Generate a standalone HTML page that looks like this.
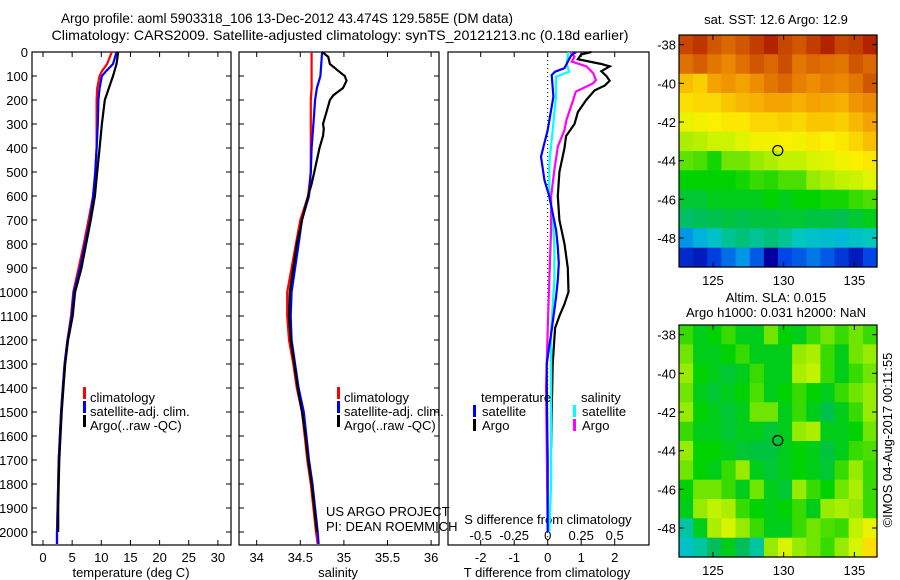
<!DOCTYPE html>
<html><head><meta charset="utf-8"><style>
html,body{margin:0;padding:0;background:#fff;}
svg{display:block;font-family:"Liberation Sans",sans-serif;}
text{font-size:13px;fill:#000;}
</style></head><body>
<svg id="fig" width="900" height="580" viewBox="0 0 900 580" xmlns="http://www.w3.org/2000/svg">
<text x="287" y="23" text-anchor="middle" textLength="452" lengthAdjust="spacingAndGlyphs" style="font-size:14px">Argo profile: aoml 5903318_106 13-Dec-2012 43.474S 129.585E (DM data)</text>
<text x="340" y="40" text-anchor="middle" textLength="577" lengthAdjust="spacingAndGlyphs" style="font-size:14px">Climatology: CARS2009. Satellite-adjusted climatology: synTS_20121213.nc (0.18d earlier)</text>
<g id="g"></g>
</svg>
<script>
// ---------- data ----------
const depthsT=[0,50,80,100,150,200,300,400,500,600,700,800,900,1000,1100,1200,1300,1400,1500,1600,1700,1800,1900,2000,2050];
const tempClim=[11.8,11.0,10.1,9.7,9.3,9.2,9.2,9.2,9.0,8.6,7.8,7.0,6.1,5.2,4.8,4.2,3.7,3.4,3.1,2.9,2.7,2.6,2.5,2.4,2.4];
const tempSat=[12.6,12.0,10.8,10.1,9.7,9.5,9.4,9.2,8.95,8.6,8.06,7.2,6.35,5.3,4.9,4.2,3.7,3.4,3.1,2.9,2.7,2.6,2.5,2.4,2.4];
const depthsArgoT=[0,50,100,150,200,300,400,500,600,700,800,900,1000,1100,1200,1300,1400,1500,1600,1700,1800,1900,2000];
const tempArgo=[12.9,12.6,12.0,11.3,10.6,10.1,9.7,9.3,8.9,8.2,7.4,6.6,5.5,5.1,4.3,3.8,3.5,3.2,3.0,2.8,2.7,2.6,2.6];
const depthsS=[0,100,150,200,300,400,500,600,700,800,900,1000,1100,1200,1300,1400,1500,1600,1700,1800,1900,2000,2050];
const salClim=[34.63,34.63,34.63,34.62,34.62,34.62,34.62,34.59,34.50,34.45,34.40,34.35,34.35,34.37,34.42,34.46,34.52,34.55,34.58,34.62,34.65,34.68,34.70];
const salSat=[34.75,34.73,34.69,34.67,34.65,34.63,34.62,34.60,34.52,34.48,34.44,34.40,34.39,34.40,34.44,34.48,34.54,34.57,34.60,34.64,34.67,34.70,34.71];
const depthsArgoS=[0,20,50,80,100,120,150,180,200,250,300,320,350,400,450,500,550,600,700,800,900,1000,1100,1200,1300,1400,1500,1600,1700,1800,1900,2000];
const salArgo=[34.75,34.82,34.84,34.94,35.01,35.03,34.99,34.88,34.84,34.80,34.76,34.77,34.76,34.72,34.69,34.66,34.63,34.59,34.52,34.46,34.42,34.38,34.37,34.39,34.43,34.47,34.52,34.56,34.59,34.63,34.66,34.69];
const depthsD=[0,14,40,67,82,96,186,325,436,533,603,672,742,812,880,950,1020,1158,1300,1500,1700,2000];
const dTSat=[0.85,0.7,0.6,0.5,0.22,0.12,0.17,0.0,-0.2,-0.1,0.05,0.15,0.25,0.3,0.33,0.3,0.25,0.12,-0.03,-0.02,0,0];
const depthsDA=[0,10,30,50,60,80,100,120,140,160,200,250,300,350,400,500,600,700,800,900,1000,1050,1100,1150,1300,1500,1650];
const dTArgo=[1.3,1.0,0.9,1.6,1.85,1.6,1.75,1.85,1.7,1.4,1.15,0.9,0.8,0.55,0.5,0.35,0.3,0.35,0.5,0.6,0.62,0.5,0.35,0.22,0.15,0.12,0.1];
const depthsDS=[0,49,82,103,186,325,464,603,672,812,950,1158,1400,1800,2000];
const dSSat=[0.155,0.142,0.16,0.062,0.062,0.037,0.012,0.012,0.037,0.05,0.05,0.025,0.025,0.025,0.012];
const depthsDSA=[0,20,40,60,89,117,130,165,200,283,325,394,490,603,742,950,1158,1400,2000];
const dSArgo=[0.17,0.2,0.18,0.29,0.34,0.36,0.34,0.21,0.19,0.14,0.125,0.075,0.05,0.025,0.025,0.012,0,-0.012,0];
const depthTicks=[0,100,200,300,400,500,600,700,800,900,1000,1100,1200,1300,1400,1500,1600,1700,1800,1900,2000];
const tempTicks=[0,5,10,15,20,25,30];
const salTicks=[34,34.5,35,35.5,36];
const tdTicks=[-2,-1,0,1,2];
const sdTicks=[-0.5,-0.25,0,0.25,0.5];
const latTicks=[-38,-40,-42,-44,-46,-48];
const lonTicks=[125,130,135];
const sstGrid=[
[.92,.94,.9,.88,.9,.93,.96,.92,.9,.93,.96,.92,.93,.96],
[.87,.89,.86,.84,.87,.9,.88,.91,.86,.88,.87,.86,.9,.88],
[.76,.74,.8,.82,.8,.83,.86,.88,.85,.83,.85,.84,.86,.9],
[.72,.73,.73,.75,.77,.78,.8,.8,.78,.8,.79,.78,.82,.84],
[.68,.69,.7,.71,.71,.73,.73,.74,.73,.75,.75,.74,.77,.8],
[.62,.63,.65,.65,.67,.69,.69,.7,.69,.71,.7,.71,.73,.76],
[.57,.56,.53,.58,.58,.6,.62,.64,.64,.66,.67,.69,.7,.71],
[.52,.52,.52,.52,.53,.55,.54,.56,.56,.6,.62,.64,.65,.67],
[.48,.48,.5,.5,.5,.5,.52,.5,.52,.52,.53,.53,.55,.56],
[.44,.45,.46,.47,.46,.47,.47,.48,.48,.47,.47,.46,.48,.5],
[.28,.32,.36,.41,.43,.41,.43,.41,.38,.36,.35,.34,.36,.38],
[.16,.14,.19,.24,.28,.22,.1,.2,.22,.25,.22,.18,.14,.2]];
const slaGrid=[
[.55,.5,.52,.55,.5,.5,.58,.52,.5,.55,.58,.55,.58,.55],
[.58,.5,.5,.52,.55,.5,.5,.5,.6,.62,.55,.5,.58,.6],
[.6,.52,.5,.48,.5,.55,.5,.5,.62,.64,.55,.5,.55,.58],
[.58,.5,.48,.5,.52,.56,.5,.52,.55,.52,.5,.55,.58,.6],
[.6,.52,.5,.48,.5,.58,.58,.5,.55,.5,.46,.5,.55,.6],
[.55,.5,.5,.48,.5,.5,.48,.5,.6,.62,.5,.5,.52,.58],
[.6,.52,.52,.5,.48,.47,.47,.5,.52,.5,.47,.5,.55,.56],
[.58,.52,.5,.55,.6,.5,.48,.5,.52,.5,.48,.55,.6,.55],
[.52,.58,.58,.55,.5,.58,.5,.48,.6,.55,.52,.58,.62,.55],
[.5,.6,.64,.62,.55,.52,.5,.52,.55,.5,.6,.62,.6,.55],
[.4,.5,.62,.66,.6,.55,.5,.5,.55,.58,.56,.55,.64,.68],
[.36,.4,.45,.5,.45,.4,.6,.66,.6,.58,.55,.6,.66,.72]];
const argoLon=129.585, argoLat=-43.474;
// ---------- helpers ----------
const NS="http://www.w3.org/2000/svg";
const G=document.getElementById('g');
function mk(tag,attrs,parent){const e=document.createElementNS(NS,tag);for(const k in attrs)e.setAttribute(k,attrs[k]);(parent||G).appendChild(e);return e;}
const yD=d=>52+d*0.24;
const xT=t=>43+5.83*t;
const xS=s=>256.7+87.2*(s-34);
const xTd=t=>547.7+33.5*t;
const xSd=s=>547.7+134*s;
function line(xs,ds,fx,color,name){
  const pts=xs.map((v,i)=>fx(v).toFixed(1)+','+yD(ds[i]).toFixed(1)).join(' ');
  const p=mk('polyline',{points:pts,fill:'none',stroke:color,'stroke-width':2.2});
  
  
}
function txt(x,y,s,anchor,name,extra){
  const t=mk('text',Object.assign({x:x,y:y,'text-anchor':anchor||'start'},extra||{}));t.textContent=s;
  
  
  return t;
}
function frame(x0,x1,y0,y1,name){
  const r=mk('rect',{x:x0,y:y0,width:x1-x0,height:y1-y0,fill:'none',stroke:'#000','stroke-width':1.2});
  
  
}
function legBar(x,y,c){mk('rect',{x:x,y:y-11,width:3,height:12,fill:c});}
// ---------- profile panels ----------
const panels=[[32,231],[239,439],[448,649]];
panels.forEach((p,i)=>{
  frame(p[0],p[1],52,545,'profile-panel-'+(i+1));
  if(i<2) depthTicks.forEach(d=>{mk('line',{x1:p[0],x2:p[0]+5,y1:yD(d),y2:yD(d),stroke:'#000'});mk('line',{x1:p[1]-5,x2:p[1],y1:yD(d),y2:yD(d),stroke:'#000'});});
});
depthTicks.forEach(d=>txt(28,yD(d)+5,String(d),'end','depth-tick-label'));
tempTicks.forEach(t=>{mk('line',{x1:xT(t),x2:xT(t),y1:52,y2:57,stroke:'#000'});mk('line',{x1:xT(t),x2:xT(t),y1:540,y2:545,stroke:'#000'});txt(xT(t),562,String(t),'middle','temp-tick-label');});
salTicks.forEach(s=>{mk('line',{x1:xS(s),x2:xS(s),y1:52,y2:57,stroke:'#000'});mk('line',{x1:xS(s),x2:xS(s),y1:540,y2:545,stroke:'#000'});txt(xS(s),562,String(s),'middle','salinity-tick-label');});
tdTicks.forEach(t=>{mk('line',{x1:xTd(t),x2:xTd(t),y1:52,y2:57,stroke:'#000'});mk('line',{x1:xTd(t),x2:xTd(t),y1:540,y2:545,stroke:'#000'});txt(xTd(t),562,String(t),'middle','tdiff-tick-label');});
sdTicks.forEach(s=>txt(xSd(s),540,String(s),'middle','sdiff-tick-label'));
txt(131,577,'temperature (deg C)','middle','x-axis-title-temperature');
txt(338,577,'salinity','middle','x-axis-title-salinity');
txt(547,577,'T difference from climatology','middle','x-axis-title-tdiff');
txt(548,524,'S difference from climatology','middle','x-axis-title-sdiff');
const z=mk('line',{x1:xTd(0),x2:xTd(0),y1:52,y2:545,stroke:'#000','stroke-dasharray':'1,3'});

line(tempClim,depthsT,xT,'#ff0000','temp-climatology-line');
line(tempSat,depthsT,xT,'#0000ff','temp-satellite-line');
line(tempArgo,depthsArgoT,xT,'#000000','temp-argo-line');
line(salClim,depthsS,xS,'#ff0000','sal-climatology-line');
line(salSat,depthsS,xS,'#0000ff','sal-satellite-line');
line(salArgo,depthsArgoS,xS,'#000000','sal-argo-line');
line(dTArgo,depthsDA,xTd,'#000000','tdiff-argo-line');
line(dSArgo,depthsDSA,xSd,'#ff00ff','sdiff-argo-line');
line(dSSat,depthsDS,xSd,'#00ffff','sdiff-satellite-line');
line(dTSat,depthsD,xTd,'#0000ff','tdiff-satellite-line');
[[83,90],[337,344]].forEach((L,i)=>{
  legBar(L[0],398,'#ff0000');legBar(L[0],412,'#0000ff');legBar(L[0],426,'#000');
  txt(L[1],402,'climatology','start','legend-climatology');
  txt(L[1],416,'satellite-adj. clim.','start','legend-satellite');
  txt(L[1],430,'Argo(..raw -QC)','start','legend-argo');
});
txt(481,402,'temperature','start','legend-temperature-heading');
legBar(473,416,'#0000ff');txt(482,416,'satellite','start','legend-t-satellite');
legBar(473,430,'#000');txt(482,430,'Argo','start','legend-t-argo');
txt(581,402,'salinity','start','legend-salinity-heading');
legBar(573,416,'#00ffff');txt(582,416,'satellite','start','legend-s-satellite');
legBar(573,430,'#ff00ff');txt(582,430,'Argo','start','legend-s-argo');
txt(326,516,'US ARGO PROJECT','start','project-credit');
txt(326,531,'PI: DEAN ROEMMICH','start','pi-credit');
// ---------- maps ----------
const stops=[[0,[0,0,120]],[0.1,[0,0,160]],[0.2,[0,70,230]],[0.3,[0,170,230]],[0.38,[0,200,190]],[0.45,[0,190,90]],[0.52,[0,210,0]],[0.6,[150,235,0]],[0.66,[215,245,0]],[0.7,[250,240,0]],[0.76,[250,190,0]],[0.84,[235,135,0]],[0.92,[200,70,0]],[1,[160,0,0]]];
function cmap(v){for(let i=1;i<stops.length;i++){if(v<=stops[i][0]){const a=stops[i-1],b=stops[i];const f=(v-a[0])/(b[0]-a[0]);return 'rgb('+a[1].map((c,k)=>Math.round(c+(b[1][k]-c)*f)).join(',')+')';}}return 'rgb(160,0,0)';}
const mx0=679,mx1=877,lon0=122.6,lon1=136.6;
const xL=lon=>mx0+(lon-lon0)*(mx1-mx0)/(lon1-lon0);
function drawMap(grid,y0,y1,name){
  const yL=lat=>y0+(-37.5-lat)*(y1-y0)/12;
  const g=mk('g',{});
  
  
  grid.forEach((row,r)=>row.forEach((v,c)=>{
    const x=xL(lon0+c),y=yL(-37.5-r);
    const cell=mk('rect',{x:x.toFixed(1),y:y.toFixed(1),width:(xL(lon0+c+1)-x+0.6).toFixed(1),height:(yL(-38.5-r)-y+0.6).toFixed(1),fill:cmap(v)},g);
    
    
  }));
  frame(mx0,mx1,y0,y1,name+'-frame');
  latTicks.forEach(l=>{mk('line',{x1:mx0,x2:mx0+5,y1:yL(l),y2:yL(l),stroke:'#000'});mk('line',{x1:mx1-5,x2:mx1,y1:yL(l),y2:yL(l),stroke:'#000'});txt(676,yL(l)+5,String(l),'end','lat-tick-label');});
  lonTicks.forEach(l=>{mk('line',{x1:xL(l),x2:xL(l),y1:y0,y2:y0+5,stroke:'#000'});mk('line',{x1:xL(l),x2:xL(l),y1:y1-5,y2:y1,stroke:'#000'});txt(xL(l),y1+18,String(l),'middle','lon-tick-label');});
  const c=mk('circle',{cx:xL(argoLon),cy:yL(argoLat),r:5,fill:'none',stroke:'#000','stroke-width':1.2});
  
  
}
drawMap(sstGrid,35,267,'sst-map');
drawMap(slaGrid,325,557,'sla-map');
txt(776,24,'sat. SST: 12.6 Argo: 12.9','middle','sst-map-title');
txt(776,302,'Altim. SLA: 0.015','middle','sla-map-title-1');
txt(776,317,'Argo h1000: 0.031 h2000: NaN','middle','sla-map-title-2');
txt(0,0,'©IMOS 04-Aug-2017 00:11:55','middle','timestamp-credit',{transform:'translate(892,440) rotate(-90)'});
</script>
</body></html>
